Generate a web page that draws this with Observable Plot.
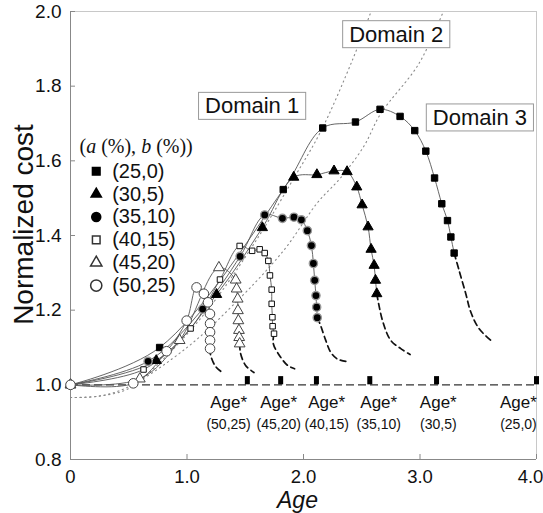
<!DOCTYPE html>
<html><head><meta charset="utf-8">
<script src="https://cdn.jsdelivr.net/npm/d3@7"></script>
<script src="https://cdn.jsdelivr.net/npm/@observablehq/plot@0.6"></script>
<style>
body{margin:0;background:#fff;font-family:"Liberation Sans",Arial,sans-serif;}
#chart{width:543px;height:513px;}
</style></head><body><div id="chart"></div>
<script>
// ---------- data ----------
const xTicks = [0, 1, 2, 3, 4];
const xTickLabels = ["0", "1.0", "2.0", "3.0", "4.0"];
const yTicks = [0.8, 1.0, 1.2, 1.4, 1.6, 1.8, 2.0];
const yTickLabels = ["0.8", "1.0", "1.2", "1.4", "1.6", "1.8", "2.0"];
const seriesNames = ["(25,0)", "(30,5)", "(35,10)", "(40,15)", "(45,20)", "(50,25)"];
const legendTitle = "(a (%), b (%))";

// measured points [age, normalized cost]
const s25_0 = [[0,1.0],[0.765,1.100],[1.826,1.523],[2.165,1.688],[2.446,1.704],[2.657,1.738],[2.829,1.719],[2.955,1.681],[3.050,1.626],[3.125,1.554],[3.187,1.485],[3.236,1.440],[3.265,1.396],[3.293,1.353]];
const s30_5 = [[0,1.0],[0.736,1.065],[1.254,1.242],[1.647,1.421],[1.916,1.556],[2.115,1.563],[2.262,1.573],[2.374,1.571],[2.457,1.530],[2.503,1.482],[2.554,1.423],[2.580,1.363],[2.606,1.320],[2.618,1.280],[2.629,1.244]];
const s35_10 = [[0,1.0],[0.666,1.063],[1.134,1.203],[1.456,1.344],[1.667,1.455],[1.819,1.446],[1.918,1.449],[1.982,1.442],[2.033,1.413],[2.068,1.373],[2.085,1.325],[2.096,1.280],[2.107,1.239],[2.113,1.208],[2.118,1.180]];
const s40_15 = [[0,1.0],[0.627,1.041],[1.031,1.151],[1.283,1.282],[1.452,1.372],[1.559,1.359],[1.624,1.363],[1.667,1.353],[1.698,1.332],[1.712,1.293],[1.727,1.255],[1.727,1.217],[1.733,1.181],[1.735,1.157],[1.747,1.137]];
const s45_20 = [[0,1.0],[0.595,1.016],[0.937,1.119],[1.274,1.314],[1.418,1.281],[1.426,1.257],[1.435,1.230],[1.437,1.199],[1.441,1.172],[1.446,1.146],[1.448,1.127],[1.452,1.110]];
const s50_25 = [[0,1.0],[0.539,1.004],[0.825,1.090],[0.997,1.172],[1.082,1.261],[1.145,1.244],[1.180,1.221],[1.197,1.190],[1.198,1.164],[1.198,1.141],[1.198,1.119],[1.198,1.097]];

// dashed extrapolated tails
const t25_0 = [[3.336,1.306],[3.393,1.244],[3.436,1.195],[3.508,1.150],[3.617,1.117]];
const t30_5 = [[2.680,1.170],[2.749,1.119],[2.835,1.097],[2.915,1.081]];
const t35_10 = [[2.142,1.163],[2.191,1.119],[2.234,1.087],[2.291,1.069],[2.363,1.063]];
const t40_15 = [[1.741,1.110],[1.804,1.074],[1.864,1.052],[1.924,1.043]];
const t45_20 = [[1.460,1.084],[1.503,1.052],[1.575,1.033]];
const t50_25 = [[1.203,1.079],[1.246,1.049],[1.317,1.030]];

// domain boundaries (dotted)
const boundaryA = [[0,0.966],[0.25,0.970],[0.5,0.990],[0.8,1.070],[1.2,1.210],[1.6,1.390],[1.92,1.555],[2.15,1.680],[2.42,1.870],[2.58,2.0]];
const boundaryB = [[0,0.966],[0.25,0.970],[0.5,0.995],[1.0,1.100],[1.4,1.215],[1.83,1.360],[2.12,1.488],[2.32,1.555],[2.52,1.640],[2.66,1.725],[2.99,1.860],[3.2,2.0]];

// Age* markers and labels
const ageStar = [1.518, 1.804, 2.111, 2.569, 3.142, 4.0];
const ageStarNames = ["(50,25)", "(45,20)", "(40,15)", "(35,10)", "(30,5)", "(25,0)"];
const ageStarLabelX = [1.357, 1.787, 2.199, 2.646, 3.157, 3.845];

const domainLabels = ["Domain 1", "Domain 2", "Domain 3"];
const domainX = [1.559, 2.796, 3.514];
const domainY = [1.746, 1.938, 1.715];

// ---------- styles ----------
const series = [
  {pts: s25_0, tail: t25_0, symbol: "square",   fill: "black", stroke: "black", r: 3.6, sw: 1},
  {pts: s30_5, tail: t30_5, symbol: "triangle", fill: "black", stroke: "black", r: 3.8, sw: 1},
  {pts: s35_10, tail: t35_10, symbol: "circle", fill: "black", stroke: "#999",  r: 4.1, sw: 1.4},
  {pts: s40_15, tail: t40_15, symbol: "square", fill: "white", stroke: "#111",  r: 3.1, sw: 1},
  {pts: s45_20, tail: t45_20, symbol: "triangle", fill: "white", stroke: "#444", r: 4.0, sw: 1},
  {pts: s50_25, tail: t50_25, symbol: "circle", fill: "white", stroke: "#444",  r: 4.8, sw: 1}
];
const legendStyle = [
  {symbol: "square", fill: "black", stroke: "black", r: 4.3},
  {symbol: "triangle", fill: "black", stroke: "black", r: 3.8},
  {symbol: "circle", fill: "black", stroke: "black", r: 4.5},
  {symbol: "square", fill: "white", stroke: "#333", r: 4.3},
  {symbol: "triangle", fill: "white", stroke: "#333", r: 4.2},
  {symbol: "circle", fill: "white", stroke: "#333", r: 5.6}
];

const marks = [];
// frame & axes lines
marks.push(Plot.ruleY([2.0], {stroke: "#c8c8c8"}));
marks.push(Plot.ruleX([4.0], {stroke: "#c8c8c8"}));
marks.push(Plot.ruleX([0], {stroke: "#888"}));
marks.push(Plot.ruleY([0.8], {stroke: "#888"}));
marks.push(Plot.tickX(xTicks, {x: d => d, stroke: "#888", insetTop: 443}));
marks.push(Plot.tickY(yTicks, {y: d => d, stroke: "#888", insetRight: 461}));
// tick labels
marks.push(Plot.text(xTicks.slice(0, 4), {x: d => d, frameAnchor: "bottom", lineAnchor: "middle", textAnchor: "middle", dy: 18, text: (d, i) => xTickLabels[i], fontSize: 18.5, fill: "#111"}));
marks.push(Plot.text(xTicks.slice(4), {x: d => d, frameAnchor: "bottom", lineAnchor: "middle", textAnchor: "middle", dy: 18, dx: -6, text: (d, i) => xTickLabels[4 + i], fontSize: 18.5, fill: "#111"}));
marks.push(Plot.text(yTicks, {y: d => d, frameAnchor: "left", lineAnchor: "middle", textAnchor: "end", dx: -9, text: (d, i) => yTickLabels[i], fontSize: 19, fill: "#111"}));
// axis titles
marks.push(Plot.text(["Normalized cost"], {frameAnchor: "left", textAnchor: "middle", lineAnchor: "middle", rotate: -90, dx: -46, dy: -11, fontSize: 28, fill: "#111"}));
marks.push(Plot.text(["Age"], {frameAnchor: "bottom", textAnchor: "middle", lineAnchor: "middle", dy: 41, dx: -6, fontSize: 23, fontStyle: "italic", fill: "#111"}));

// dotted boundaries
for (const b of [boundaryA, boundaryB]) {
  marks.push(Plot.line(b, {curve: "catmull-rom", stroke: "#8a8a8a", strokeWidth: 1.1, strokeDasharray: "1.2,3.6", clip: true}));
}
// y = 1 reference dashed line
marks.push(Plot.ruleY([1.0], {x1: 0, x2: 4, stroke: "#333", strokeWidth: 1.2, strokeDasharray: "8,4"}));

// series lines
for (const s of series) {
  marks.push(Plot.line(s.pts, {curve: "catmull-rom", stroke: "#555", strokeWidth: 0.9}));
  marks.push(Plot.line([s.pts[s.pts.length - 1], ...s.tail], {curve: "catmull-rom", stroke: "#111", strokeWidth: 1.7, strokeDasharray: "6,4"}));
}
for (const s of series) {
  marks.push(Plot.dot(s.pts, {symbol: s.symbol, fill: s.fill, stroke: s.stroke, r: s.r, strokeWidth: s.sw}));
}
// Age* markers
marks.push(Plot.ruleX(ageStar, {y1: 1.0, y2: 1.022, stroke: "black", strokeWidth: 5}));
marks.push(Plot.text(ageStarLabelX, {x: d => d, y: 0.953, text: () => "Age*", fontSize: 17, fill: "#111"}));
marks.push(Plot.text(ageStarLabelX, {x: d => d, y: 0.894, text: (d, i) => ageStarNames[i], fontSize: 14, fill: "#111"}));

// domain labels
marks.push(Plot.text(domainLabels, {x: (d, i) => domainX[i], y: (d, i) => domainY[i], text: d => d, fontSize: 22, fill: "#111"}));

// legend
marks.push(Plot.text([legendTitle], {x: 0.077, y: 1.637, text: d => d, textAnchor: "start", fontSize: 20, fontFamily: "Liberation Serif, Times New Roman, serif", fill: "#111"}));
seriesNames.forEach((name, i) => {
  const st = legendStyle[i];
  marks.push(Plot.dot([name], {x: 0.221, y: 1.572 - i * 0.0612, symbol: st.symbol, fill: st.fill, stroke: st.stroke, r: st.r}));
  marks.push(Plot.text([name], {x: 0.358, y: 1.572 - i * 0.0612, text: d => d, textAnchor: "start", fontSize: 20, fill: "#111"}));
});

const plot = Plot.plot({
  width: 543, height: 513,
  marginLeft: 70, marginRight: 7, marginTop: 11, marginBottom: 54,
  x: {domain: [0, 4], axis: null},
  y: {domain: [0.8, 2.0], axis: null},
  style: {fontFamily: "Liberation Sans, Arial, sans-serif", background: "white", overflow: "visible"},
  marks
});
document.getElementById("chart").append(plot);

// post-process: boxes around domain labels, italic a/b in legend title
const NS = "http://www.w3.org/2000/svg";
plot.querySelectorAll("text").forEach(t => {
  const s = t.textContent;
  if (/^Domain/.test(s)) {
    const b = t.getBBox();
    const r = document.createElementNS(NS, "rect");
    r.setAttribute("x", b.x - 6.5);
    r.setAttribute("y", b.y - 1);
    r.setAttribute("width", b.width + 13);
    r.setAttribute("height", b.height + 2);
    r.setAttribute("fill", "white");
    r.setAttribute("stroke", "#999");
    r.setAttribute("stroke-width", "1");
    if (t.getAttribute("transform")) r.setAttribute("transform", t.getAttribute("transform"));
    t.parentNode.insertBefore(r, t);
  }
  if (s === legendTitle) {
    t.innerHTML = '(<tspan font-style="italic">a</tspan> (%), <tspan font-style="italic">b</tspan> (%))';
  }
});
</script></body></html>
